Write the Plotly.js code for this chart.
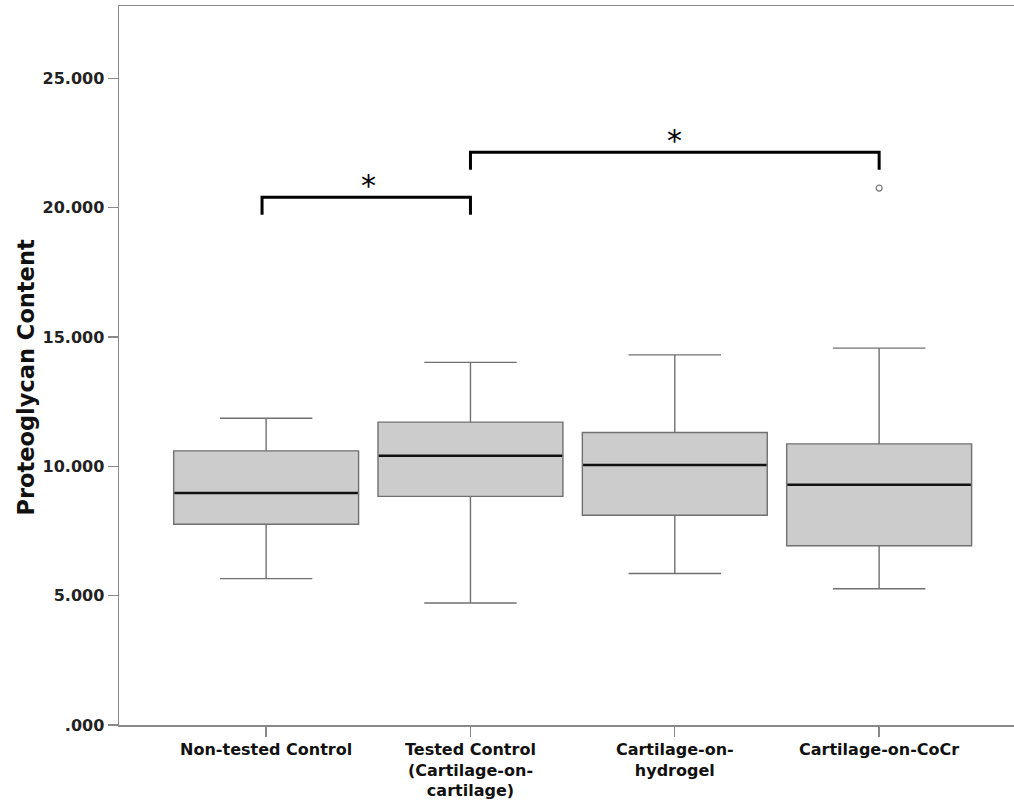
<!DOCTYPE html>
<html>
<head>
<meta charset="utf-8">
<script src="https://cdn.plot.ly/plotly-3.0.1.min.js"></script>
<style>html,body{margin:0;padding:0;background:#fff;}#chart{width:1014px;height:803px;}</style>
</head>
<body>
<div id="chart"></div>
<script>
// Data
const categories = ["Non-tested Control", "Tested Control<br>(Cartilage-on-<br>cartilage)", "Cartilage-on-<br>hydrogel", "Cartilage-on-CoCr"];
const positions = [0, 1, 2, 3];
const lowerWhisker = [5.66, 4.72, 5.86, 5.27];
const q1Values = [7.76, 8.84, 8.11, 6.93];
const medianValues = [8.97, 10.41, 10.05, 9.29];
const q3Values = [10.60, 11.71, 11.31, 10.87];
const upperWhisker = [11.86, 14.02, 14.31, 14.57];
const outlierX = [3];
const outlierY = [20.76];
const yTickVals = [0, 5, 10, 15, 20, 25];
const yTickText = [".000", "5.000", "10.000", "15.000", "20.000", "25.000"];
const yTitle = "Proteoglycan Content";
// significance brackets: [from, to], bar height, drop
const bracketPairs = [[0, 1], [1, 3]];
const bracketHeights = [20.41, 22.15];
const bracketDrop = 0.68;
const bracketLabels = ["*", "*"];

const BOXW = 0.905;
const traces = [];
traces.push({
  type: "box",
  x: positions,
  q1: q1Values,
  median: medianValues,
  q3: q3Values,
  lowerfence: lowerWhisker,
  upperfence: upperWhisker,
  width: BOXW,
  whiskerwidth: 0.5,
  fillcolor: "#cccccc",
  line: {color: "#707070", width: 1.4},
  boxpoints: false,
  hoverinfo: "skip",
  showlegend: false
});
traces.push({
  type: "scatter",
  mode: "markers",
  x: outlierX,
  y: outlierY,
  marker: {symbol: "circle-open", size: 6, color: "#777", line: {width: 1.2, color: "#777"}},
  hoverinfo: "skip",
  showlegend: false
});
bracketPairs.forEach((p, i) => {
  const h = bracketHeights[i];
  const x0 = p[0] - (i === 0 ? 0.02 : 0);
  traces.push({
    type: "scatter",
    mode: "lines",
    x: [x0, x0, p[1], p[1]],
    y: [h - bracketDrop, h, h, h - bracketDrop],
    line: {color: "#000", width: 3},
    hoverinfo: "skip",
    showlegend: false
  });
});

const shapes = medianValues.map((m, i) => ({
  type: "line", xref: "x", yref: "y",
  x0: positions[i] - BOXW / 2 + 0.004, x1: positions[i] + BOXW / 2 - 0.004,
  y0: m, y1: m,
  line: {color: "#111", width: 2.6}
}));

const annotations = bracketPairs.map((p, i) => ({
  x: (p[0] + p[1]) / 2, y: bracketHeights[i], xref: "x", yref: "y",
  text: bracketLabels[i], showarrow: false, yanchor: "bottom", yshift: -8,
  font: {family: "DejaVu Sans", size: 30, color: "#000"}
}));

annotations.push({
  xref: "paper", yref: "paper", x: 0, y: 0.5, xshift: -94, yshift: -12,
  xanchor: "center", yanchor: "middle", textangle: -90, showarrow: false,
  text: "<b>" + yTitle + "</b>",
  font: {family: "DejaVu Sans", size: 22.5, color: "#111"}
});

const layout = {
  width: 1014, height: 803,
  margin: {l: 119, r: 0, t: 6, b: 78},
  paper_bgcolor: "#fff", plot_bgcolor: "#fff",
  showlegend: false,
  hovermode: false,
  xaxis: {
    range: [-0.72, 3.66],
    tickvals: positions,
    ticktext: categories,
    ticks: "outside", ticklen: 10, tickcolor: "#888", tickwidth: 1.3,
    ticklabelstandoff: -1,
    showline: true, linecolor: "#888", linewidth: 1.5, mirror: true,
    showgrid: false, zeroline: false,
    tickfont: {family: "DejaVu Sans", size: 16, color: "#111", weight: "bold"}
  },
  yaxis: {
    range: [0, 27.8],
    tickvals: yTickVals,
    ticktext: yTickText,
    ticks: "outside", ticklen: 10, tickcolor: "#888", tickwidth: 1.3,
    showline: true, linecolor: "#888", linewidth: 1.5,
    showgrid: false, zeroline: false,
    tickfont: {family: "DejaVu Sans", size: 16, color: "#222", weight: "bold"}
  },
  shapes: shapes,
  annotations: annotations
};

Plotly.newPlot("chart", traces, layout, {displayModeBar: false, staticPlot: true});
</script>
</body>
</html>
